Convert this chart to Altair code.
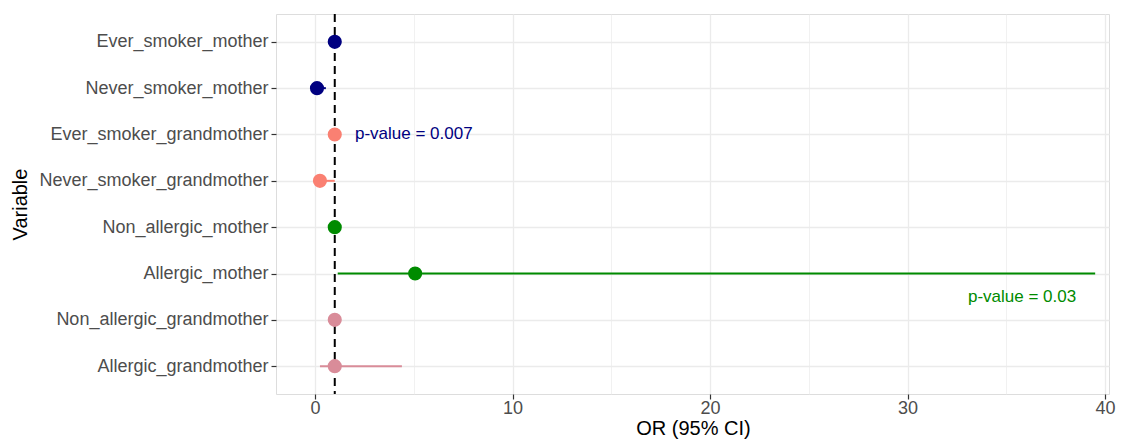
import altair as alt
import pandas as pd

variables = ["Ever_smoker_mother", "Never_smoker_mother", "Ever_smoker_grandmother",
             "Never_smoker_grandmother", "Non_allergic_mother", "Allergic_mother",
             "Non_allergic_grandmother", "Allergic_grandmother"]
or_values = [1.0, 0.1, 1.0, 0.25, 1.0, 5.07, 1.0, 1.0]
ci_low = [1.0, 0.05, 1.0, 0.25, 1.0, 1.15, 1.0, 0.25]
ci_high = [1.0, 0.55, 1.0, 1.0, 1.0, 39.5, 1.0, 4.4]
colors = ["#000080", "#000080", "#FA8072", "#FA8072", "#008B00", "#008B00", "#D98C99", "#D98C99"]

ref_x = [1]
ann_text = ["p-value = 0.007", "p-value = 0.03"]
ann_x = [5.0, 35.8]
ann_row = [3.0, 6.5]   # row positions (1 = top category)
ann_color = ["#000080", "#008B00"]

x_ticks = [0, 5, 10, 15, 20, 25, 30, 35, 40]

rows = list(range(1, len(variables) + 1))
df = pd.DataFrame({"Variable": variables, "row": rows, "OR": or_values, "lo": ci_low, "hi": ci_high})

label_expr = "[" + ",".join("'" + v + "'" for v in variables) + "][datum.value - 1]"

FONT = "Liberation Sans"
xscale = alt.Scale(domain=[-1.975, 40.2], nice=False, zero=False)
yscale = alt.Scale(domain=[len(variables) + 0.6, 0.4], nice=False, zero=False)
cscale = alt.Scale(domain=variables, range=colors)

x_axis = alt.Axis(
    values=x_ticks,
    labelExpr="datum.value % 10 == 0 ? datum.label : ''",
    tickOpacity={"condition": {"test": "datum.value % 10 == 0", "value": 1}, "value": 0},
    gridWidth={"condition": {"test": "datum.value % 10 == 0", "value": 1.3}, "value": 0.7},
    gridColor="#EBEBEB",
    tickColor="#333333", tickSize=5, tickWidth=1.2,
    labelColor="#4D4D4D", labelFontSize=18, labelFont=FONT, labelPadding=0,
    title="OR (95% CI)", titleFont=FONT, titleFontSize=20, titleFontWeight="normal",
    titleColor="#000000", titleX=417, titleY=40, titleAlign="center",
    titleBaseline="alphabetic", domain=False,
)
y_axis = alt.Axis(
    values=rows, labelExpr=label_expr, labelLimit=400,
    gridColor="#EBEBEB", gridWidth=1.3,
    tickColor="#333333", tickSize=5, tickWidth=1.2,
    labelColor="#4D4D4D", labelFontSize=18, labelFont=FONT, labelPadding=3,
    title="Variable", titleFont=FONT, titleFontSize=20, titleFontWeight="normal",
    titleColor="#000000", titleX=-256, titleY=190, titleAngle=270,
    titleAlign="center", titleBaseline="middle", domain=False,
)

base = alt.Chart(df)

bars = base.mark_rule(strokeWidth=2).encode(
    x=alt.X("lo:Q", scale=xscale, axis=x_axis),
    x2="hi:Q",
    y=alt.Y("row:Q", scale=yscale, axis=y_axis),
    color=alt.Color("Variable:N", scale=cscale, legend=None),
)

ref = alt.Chart(pd.DataFrame({"x": ref_x})).mark_rule(
    color="black", strokeWidth=2, strokeDash=[8, 5]
).encode(x=alt.X("x:Q", scale=xscale))

points = base.mark_circle(size=200, opacity=1).encode(
    x=alt.X("OR:Q", scale=xscale),
    y=alt.Y("row:Q", scale=yscale),
    color=alt.Color("Variable:N", scale=cscale, legend=None),
)

ann_df = pd.DataFrame({"x": ann_x, "row": ann_row, "t": ann_text, "c": ann_color})
texts = alt.Chart(ann_df).mark_text(
    font=FONT, fontSize=17, align="center", baseline="middle"
).encode(
    x=alt.X("x:Q", scale=xscale),
    y=alt.Y("row:Q", scale=yscale),
    text="t:N",
    color=alt.Color("c:N", scale=None, legend=None),
)

chart = alt.layer(bars, ref, points, texts).properties(
    width=833, height=380,
    autosize=alt.AutoSizeParams(type="none"),
    padding={"left": 268, "top": 6, "right": 8, "bottom": 46},
).configure_view(stroke="#333333", strokeWidth=1.2).configure(background="white")

chart.save("out.html", embed_options={"renderer": "svg", "actions": False})
